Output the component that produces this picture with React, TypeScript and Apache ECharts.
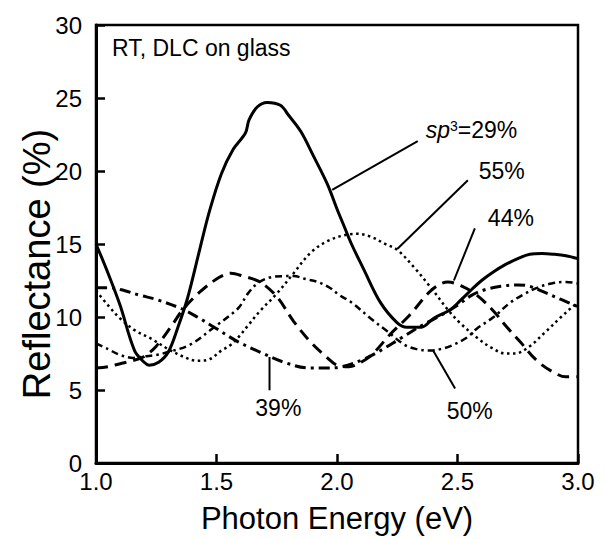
import React, { useEffect, useRef } from "react";
import * as echarts from "echarts";

// ---- data ----
const xMin = 1.0;
const xMax = 3.0;
const xInterval = 0.5;
const yMin = 0;
const yMax = 30;
const yInterval = 5;

const s29X = [1.0, 1.05, 1.1, 1.16, 1.2, 1.22, 1.26, 1.3, 1.34, 1.38, 1.43, 1.47, 1.52, 1.57, 1.62, 1.635, 1.67, 1.71, 1.765, 1.8, 1.85, 1.9, 1.96, 2.0, 2.03, 2.06, 2.11, 2.18, 2.25, 2.29, 2.35, 2.4, 2.47, 2.51, 2.56, 2.6, 2.65, 2.7, 2.75, 2.8, 2.85, 2.9, 2.95, 3.0];
const s29Y = [15.0, 13.0, 10.8, 7.7, 6.9, 6.7, 6.9, 7.6, 9.3, 11.3, 14.6, 17.2, 19.8, 21.5, 22.6, 23.5, 24.4, 24.7, 24.5, 23.8, 22.7, 21.1, 19.1, 17.4, 16.2, 15.0, 13.3, 11.0, 9.6, 9.3, 9.3, 9.9, 10.5, 11.1, 11.9, 12.5, 13.1, 13.6, 14.0, 14.3, 14.35, 14.3, 14.2, 14.0];

const s55X = [1.0, 1.05, 1.1, 1.16, 1.23, 1.3, 1.36, 1.42, 1.47, 1.52, 1.56, 1.59, 1.63, 1.68, 1.75, 1.82, 1.89, 1.96, 2.03, 2.08, 2.14, 2.2, 2.25, 2.32, 2.39, 2.46, 2.51, 2.58, 2.64, 2.7, 2.74, 2.8, 2.86, 2.93, 2.97, 3.0];
const s55Y = [11.8, 10.8, 9.9, 9.1, 8.5, 7.8, 7.3, 7.0, 7.1, 7.7, 8.1, 8.6, 9.4, 10.4, 11.6, 13.0, 14.4, 15.2, 15.6, 15.7, 15.5, 15.0, 14.6, 13.4, 12.0, 10.5, 9.6, 8.6, 7.9, 7.5, 7.5, 8.0, 8.9, 10.0, 10.6, 11.0];

const s44X = [1.0, 1.05, 1.1, 1.15, 1.2, 1.25, 1.31, 1.36, 1.43, 1.51, 1.56, 1.61, 1.68, 1.75, 1.82, 1.89, 1.96, 2.0, 2.05, 2.1, 2.15, 2.22, 2.3, 2.39, 2.46, 2.52, 2.58, 2.65, 2.7, 2.76, 2.83, 2.9, 2.95, 3.0];
const s44Y = [6.5, 6.6, 6.8, 7.0, 7.3, 8.0, 9.3, 10.5, 11.7, 12.7, 13.0, 12.8, 12.4, 11.4, 9.7, 8.3, 7.2, 6.7, 6.6, 6.9, 7.5, 8.8, 10.1, 11.8, 12.4, 12.1, 11.5, 10.4, 9.4, 8.3, 7.0, 6.2, 5.9, 5.9];

const s39X = [1.0, 1.06, 1.12, 1.18, 1.25, 1.35, 1.42, 1.49, 1.59, 1.68, 1.78, 1.89, 1.96, 2.02, 2.11, 2.18, 2.26, 2.36, 2.43, 2.5, 2.56, 2.62, 2.68, 2.75, 2.8, 2.86, 2.93, 3.0];
const s39Y = [12.0, 12.0, 11.8, 11.5, 11.2, 10.6, 10.0, 9.3, 8.3, 7.6, 6.9, 6.5, 6.5, 6.6, 7.1, 7.7, 8.5, 9.5, 10.1, 10.8, 11.5, 11.9, 12.1, 12.2, 12.1, 11.7, 11.2, 10.7];

const s50X = [1.0, 1.05, 1.1, 1.155, 1.2, 1.25, 1.3, 1.39, 1.49, 1.59, 1.63, 1.67, 1.72, 1.78, 1.82, 1.87, 1.92, 1.97, 2.01, 2.06, 2.14, 2.21, 2.28, 2.33, 2.39, 2.43, 2.47, 2.54, 2.58, 2.65, 2.72, 2.78, 2.83, 2.89, 2.95, 3.0];
const s50Y = [8.2, 7.8, 7.4, 7.2, 7.3, 7.4, 7.6, 8.1, 9.3, 10.6, 11.6, 12.3, 12.7, 12.8, 12.8, 12.6, 12.4, 12.0, 11.5, 11.0, 9.9, 9.0, 8.1, 7.8, 7.7, 7.8, 8.0, 8.6, 9.2, 10.0, 11.0, 11.6, 12.0, 12.3, 12.4, 12.3];

const seriesNames = ["sp3=29%", "55%", "44%", "39%", "50%"];

// annotation text and leader lines (data coordinates)
const labelTexts = ["{i|sp}{s|3}{n|=29%}", "55%", "44%", "39%", "50%"];
const labelX = [2.368, 2.588, 2.626, 1.661, 2.455];
const labelY = [22.8, 19.97, 16.75, 3.77, 3.56];
const leaderX1 = [2.335, 2.543, 2.572, 1.72, 2.4];
const leaderY1 = [22.05, 19.37, 16.07, 7.26, 7.67];
const leaderX2 = [1.98, 2.25, 2.485, 1.72, 2.49];
const leaderY2 = [18.7, 14.66, 12.5, 4.98, 5.1];

const noteText = "RT, DLC on glass";
const xTitle = "Photon Energy (eV)";
const yTitle = "Reflectance (%)";

const FONT = "'Liberation Sans', Arial, Helvetica, sans-serif";

function pairs(xs: number[], ys: number[]) {
  return xs.map((x, i) => [x, ys[i]]);
}

export default function App() {
  const ref = useRef<HTMLDivElement>(null);
  useEffect(() => {
    if (!ref.current) return;
    const chart = echarts.init(ref.current, null, { renderer: "svg" });

    const curve = (name: string, xs: number[], ys: number[], type: any, width: number, z: number) => ({
      name,
      type: "line",
      data: pairs(xs, ys),
      showSymbol: false,
      symbol: "none",
      smooth: 0.35,
      z,
      lineStyle: { color: "#000", width, type, cap: "butt" },
    });

    const leaders = leaderX1.map((x1, i) => ({
      type: "line",
      data: [
        [x1, leaderY1[i]],
        [leaderX2[i], leaderY2[i]],
      ],
      showSymbol: false,
      symbol: "none",
      silent: true,
      z: 5,
      lineStyle: { color: "#000", width: 2, type: "solid" },
    }));

    chart.setOption({
      animation: false,
      backgroundColor: "#fff",
      textStyle: { fontFamily: FONT },
      title: {
        text: noteText,
        left: 107,
        top: 31,
        textStyle: { fontFamily: FONT, fontSize: 23, fontWeight: "normal", color: "#000" },
      },
      grid: {
        left: 96,
        right: 27,
        top: 25,
        bottom: 68,
        show: true,
        borderColor: "#000",
        borderWidth: 2.5,
        backgroundColor: "transparent",
      },
      xAxis: {
        type: "value",
        min: xMin,
        max: xMax,
        interval: xInterval,
        name: xTitle,
        nameLocation: "middle",
        nameGap: 40,
        nameTextStyle: { fontFamily: FONT, fontSize: 31, color: "#000" },
        axisLine: { show: true, lineStyle: { color: "#000", width: 3 } },
        axisTick: { show: true, inside: true, length: 9, lineStyle: { color: "#000", width: 2.5 } },
        splitLine: { show: false },
        axisLabel: {
          color: "#000",
          fontSize: 24,
          fontFamily: FONT,
          margin: 6,
          formatter: (v: number) => v.toFixed(1),
        },
      },
      yAxis: {
        type: "value",
        min: yMin,
        max: yMax,
        interval: yInterval,
        axisLine: { show: true, lineStyle: { color: "#000", width: 3 } },
        axisTick: { show: true, inside: true, length: 9, lineStyle: { color: "#000", width: 2.5 } },
        splitLine: { show: false },
        axisLabel: { color: "#000", fontSize: 24, fontFamily: FONT, margin: 14 },
      },
      series: [
        curve(seriesNames[1], s55X, s55Y, [2.5, 3.5], 2.5, 2),
        curve(seriesNames[4], s50X, s50Y, [7, 4, 2.5, 4], 2.5, 2),
        curve(seriesNames[3], s39X, s39Y, [11, 5, 3, 5], 3, 2),
        curve(seriesNames[2], s44X, s44Y, [12, 7], 3, 2),
        curve(seriesNames[0], s29X, s29Y, "solid", 3, 3),
        ...leaders,
      ],
    });

    // annotations placed through the chart's own scales
    const labels = labelX.map((x, i) => {
      const p = chart.convertToPixel({ gridIndex: 0 }, [x, labelY[i]]) as number[];
      return {
        type: "text",
        x: p[0],
        y: p[1],
        z: 10,
        style: {
          text: labelTexts[i],
          fill: "#000",
          fontSize: 23,
          fontFamily: FONT,
          align: "left",
          verticalAlign: "middle",
          rich: {
            i: { fontStyle: "italic", fontSize: 23, fontFamily: FONT, fill: "#000", verticalAlign: "bottom" },
            s: { fontSize: 14, fontFamily: FONT, fill: "#000", verticalAlign: "top" },
            n: { fontSize: 23, fontFamily: FONT, fill: "#000", verticalAlign: "bottom" },
          },
        },
      };
    });
    const top = chart.convertToPixel({ gridIndex: 0 }, [xMin, yMax]) as number[];
    const bottom = chart.convertToPixel({ gridIndex: 0 }, [xMin, yMin]) as number[];
    const yTitleEl = {
      type: "text",
      x: 37,
      y: (top[1] + bottom[1]) / 2 + 20,
      rotation: Math.PI / 2,
      z: 10,
      style: {
        text: yTitle,
        fill: "#000",
        fontSize: 38,
        fontFamily: FONT,
        align: "center",
        verticalAlign: "middle",
      },
    };
    chart.setOption({ graphic: [...labels, yTitleEl] });

    return () => chart.dispose();
  }, []);

  return (
    <div
      ref={ref}
      style={{ position: "fixed", left: 0, top: 0, width: 605, height: 539, background: "#fff" }}
    />
  );
}
